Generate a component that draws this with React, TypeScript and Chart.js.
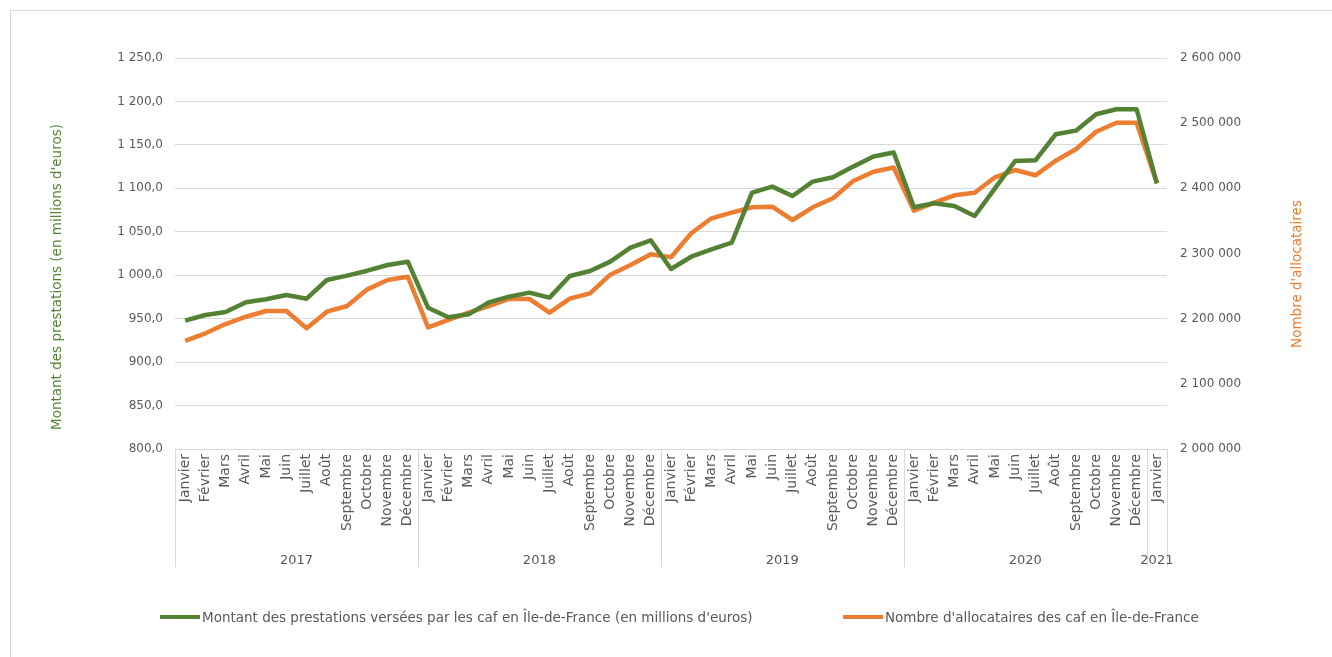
import React, { useEffect, useRef } from "react";
import { Chart, registerables } from "chart.js";

Chart.register(...registerables);

const MONTHS = ["Janvier", "Février", "Mars", "Avril", "Mai", "Juin", "Juillet", "Août", "Septembre", "Octobre", "Novembre", "Décembre"];
const YEARS = ["2017", "2018", "2019", "2020", "2021"];
const MONTHS_PER_YEAR = [12, 12, 12, 12, 1];

const montant = [
  947.7, 954.2, 957.7, 968.9, 972.3, 977.2, 973.0, 994.5, 999.5, 1005.2, 1011.8, 1015.6,
  962.6, 951.6, 955.0, 968.8, 975.3, 980.0, 974.2, 999.1, 1004.9, 1015.6, 1031.7, 1040.2,
  1007.2, 1021.3, 1029.8, 1037.4, 1095.1, 1102.0, 1091.2, 1107.7, 1112.7, 1125.0, 1136.6, 1141.2,
  1078.2, 1082.8, 1079.7, 1068.2, 1100.0, 1131.5, 1132.3, 1162.2, 1166.4, 1185.3, 1191.0, 1191.0,
  1105.8,
];

const allocataires = [
  2166000, 2177500, 2191800, 2203000, 2211800, 2211800, 2185200, 2210700, 2219400, 2245000, 2259300, 2264400,
  2186700, 2198000, 2209200, 2219400, 2230200, 2230200, 2209200, 2230700, 2238900, 2267500, 2282300, 2299000,
  2294200, 2331000, 2354000, 2362600, 2370900, 2371800, 2351400, 2370900, 2384700, 2411200, 2425500, 2432000,
  2365700, 2378000, 2389300, 2393300, 2416900, 2428100, 2420000, 2442400, 2459900, 2486900, 2500700, 2500700,
  2407700,
];

const SERIES_LABELS = [
  "Montant des prestations versées par les caf en Île-de-France (en millions d'euros)",
  "Nombre d'allocataires des caf en Île-de-France",
];
const LEFT_TITLE = "Montant des prestations (en millions d'euros)";
const RIGHT_TITLE = "Nombre d'allocataires";

const LEFT_MIN = 800;
const LEFT_MAX = 1250;
const LEFT_STEP = 50;
const RIGHT_MIN = 2000000;
const RIGHT_MAX = 2600000;
const RIGHT_STEP = 100000;

const GREEN = "#548235";
const ORANGE = "#ED7D31";
const GRAY = "#595959";
const GRID = "#d9d9d9";
const FONT = "'DejaVu Sans', sans-serif";

const monthLabels: string[] = [];
YEARS.forEach((y, i) => {
  for (let m = 0; m < MONTHS_PER_YEAR[i]; m++) monthLabels.push(MONTHS[m]);
});

function groupThousands(s: string) {
  return s.replace(/\B(?=(\d{3})+(?!\d))/g, " ");
}

const decor = {
  id: "decor",
  beforeDraw(chart: any) {
    const { ctx, width, height } = chart;
    ctx.save();
    ctx.fillStyle = "#ffffff";
    ctx.fillRect(0, 0, width, height);
    ctx.strokeStyle = GRID;
    ctx.lineWidth = 1;
    ctx.strokeRect(10.5, 10.5, width + 20, height + 20);
    ctx.restore();
  },
  afterDraw(chart: any) {
    const { ctx } = chart;
    const x = chart.scales.x;
    const ca = chart.chartArea;
    const n = monthLabels.length;
    const bounds: number[] = [ca.left];
    let idx = 0;
    MONTHS_PER_YEAR.forEach((c) => {
      idx += c;
      if (idx < n) bounds.push((x.getPixelForValue(idx - 1) + x.getPixelForValue(idx)) / 2);
      else bounds.push(ca.right);
    });
    ctx.save();
    ctx.strokeStyle = GRID;
    ctx.lineWidth = 1;
    bounds.forEach((b) => {
      const xx = Math.round(b) + 0.5;
      ctx.beginPath();
      ctx.moveTo(xx, ca.bottom);
      ctx.lineTo(xx, ca.bottom + 118);
      ctx.stroke();
    });
    ctx.fillStyle = GRAY;
    ctx.font = `13px ${FONT}`;
    ctx.textAlign = "center";
    ctx.textBaseline = "middle";
    YEARS.forEach((y, i) => {
      const cx = (bounds[i] + bounds[i + 1]) / 2;
      ctx.fillText(y, cx, ca.bottom + 112);
    });

    // axis titles
    ctx.font = `13.5px ${FONT}`;
    ctx.fillStyle = GREEN;
    ctx.save();
    ctx.translate(57, 277);
    ctx.rotate(-Math.PI / 2);
    ctx.fillText(LEFT_TITLE, 0, 0);
    ctx.restore();
    ctx.fillStyle = ORANGE;
    ctx.save();
    ctx.translate(1297, 274);
    ctx.rotate(-Math.PI / 2);
    ctx.fillText(RIGHT_TITLE, 0, 0);
    ctx.restore();

    // legend
    const items = [
      { x: 160, color: GREEN, text: chart.data.datasets[0].label },
      { x: 843, color: ORANGE, text: chart.data.datasets[1].label },
    ];
    const ly = 617;
    ctx.font = `13.5px ${FONT}`;
    ctx.textAlign = "left";
    ctx.textBaseline = "middle";
    items.forEach((it) => {
      ctx.strokeStyle = it.color;
      ctx.lineWidth = 4;
      ctx.beginPath();
      ctx.moveTo(it.x, ly);
      ctx.lineTo(it.x + 40, ly);
      ctx.stroke();
      ctx.fillStyle = GRAY;
      ctx.fillText(it.text, it.x + 42, ly + 1);
    });
    ctx.restore();
  },
};

export default function App() {
  const ref = useRef<HTMLCanvasElement | null>(null);
  useEffect(() => {
    document.body.style.margin = "0";
    const canvas = ref.current;
    if (!canvas) return;
    const chart = new Chart(canvas, {
      type: "line",
      data: {
        labels: monthLabels,
        datasets: [
          {
            label: SERIES_LABELS[0],
            data: montant,
            yAxisID: "y",
            borderColor: GREEN,
            backgroundColor: GREEN,
            borderWidth: 4.5,
            pointRadius: 0,
            tension: 0,
            borderJoinStyle: "round",
          },
          {
            label: SERIES_LABELS[1],
            data: allocataires,
            yAxisID: "y1",
            borderColor: ORANGE,
            backgroundColor: ORANGE,
            borderWidth: 4.5,
            pointRadius: 0,
            tension: 0,
            borderJoinStyle: "round",
          },
        ],
      },
      options: {
        responsive: false,
        animation: false,
        layout: { padding: { top: 58, bottom: 0, left: 0, right: 0 } },
        plugins: {
          legend: { display: false },
          tooltip: { enabled: false },
        },
        scales: {
          x: {
            type: "category",
            offset: true,
            grid: { display: false, drawTicks: false, offset: true },
            border: { display: true, color: GRID, width: 1 },
            ticks: {
              autoSkip: false,
              maxRotation: 90,
              minRotation: 90,
              padding: 5,
              color: GRAY,
              font: { family: FONT, size: 14 },
            },
            afterFit: (s: any) => {
              s.height = 208;
            },
          },
          y: {
            position: "left",
            min: LEFT_MIN,
            max: LEFT_MAX,
            grid: { color: GRID, lineWidth: 1, drawTicks: false },
            border: { display: false },
            ticks: {
              stepSize: LEFT_STEP,
              padding: 12,
              color: GRAY,
              font: { family: FONT, size: 12 },
              callback: (v: any) => groupThousands(Number(v).toFixed(1).replace(".", ",")),
            },
            afterFit: (s: any) => {
              s.width = 175;
            },
          },
          y1: {
            position: "right",
            min: RIGHT_MIN,
            max: RIGHT_MAX,
            grid: { drawOnChartArea: false, drawTicks: false },
            border: { display: false },
            ticks: {
              stepSize: RIGHT_STEP,
              padding: 13,
              color: GRAY,
              font: { family: FONT, size: 12 },
              callback: (v: any) => groupThousands(String(Math.round(Number(v)))),
            },
            afterFit: (s: any) => {
              s.width = 165;
            },
          },
        },
      },
      plugins: [decor],
    });
    return () => chart.destroy();
  }, []);
  return (
    <div style={{ width: 1332, height: 657, position: "relative" }}>
      <canvas ref={ref} width={1332} height={657} style={{ display: "block" }} />
    </div>
  );
}
